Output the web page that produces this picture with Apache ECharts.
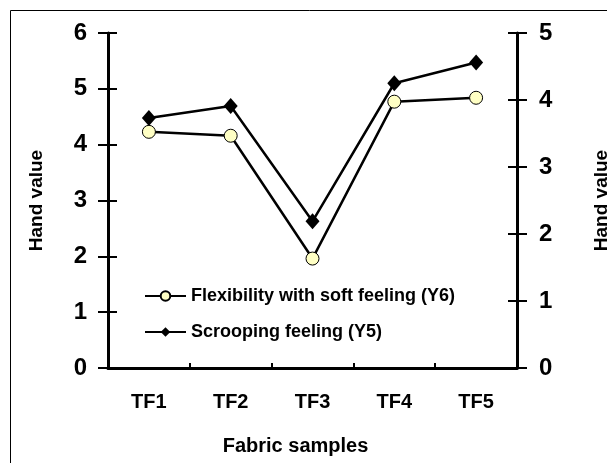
<!DOCTYPE html>
<html>
<head>
<meta charset="utf-8">
<script src="https://cdn.jsdelivr.net/npm/echarts@6/dist/echarts.min.js"></script>
<style>
  html, body { margin: 0; padding: 0; background: #fff; }
  #main { width: 607px; height: 463px; }
</style>
</head>
<body>
<div id="main"></div>
<script>
const samples = ['TF1', 'TF2', 'TF3', 'TF4', 'TF5'];
const flexibility = [4.23, 4.16, 1.96, 4.77, 4.84];   // Y6, left axis
const scrooping = [3.73, 3.91, 2.19, 4.25, 4.56];     // Y5, right axis

const font = 'Liberation Sans, Arial, sans-serif';
const black = '#000';

const chart = echarts.init(document.getElementById('main'));

const tickAxis = (pos, max) => ({
  type: 'value',
  position: pos,
  min: 0,
  max: max,
  interval: 1,
  axisLine: {show: false},
  axisLabel: {show: false},
  splitLine: {show: false},
  axisTick: {show: true, inside: true, length: 9, lineStyle: {color: black, width: 2}}
});

chart.setOption({
  animation: false,
  grid: {left: 108, right: 90, top: 33, bottom: 95, outerBoundsMode: 'none'},
  graphic: [{
    type: 'rect',
    shape: {x: 10.5, y: 10.5, width: 620, height: 470},
    style: {fill: 'none', stroke: black, lineWidth: 1}
  }],
  legend: {
    orient: 'vertical',
    left: 144,
    top: 287,
    padding: 0,
    itemWidth: 41,
    itemHeight: 12,
    itemGap: 18,
    textStyle: {fontFamily: font, fontWeight: 'bold', fontSize: 18, color: black},
    data: ['Flexibility with soft feeling (Y6)', 'Scrooping feeling (Y5)']
  },
  xAxis: [{
    type: 'category',
    data: samples,
    boundaryGap: true,
    name: 'Fabric samples',
    nameLocation: 'middle',
    nameGap: 68,
    nameTextStyle: {fontFamily: font, fontWeight: 'bold', fontSize: 20, color: black, padding: [0, 34, 0, 0]},
    axisLine: {lineStyle: {color: black, width: 3}},
    axisTick: {length: 8, lineStyle: {color: black, width: 2}},
    axisLabel: {margin: 24, fontFamily: font, fontWeight: 'bold', fontSize: 20, color: black}
  }, {
    type: 'category',
    data: samples,
    position: 'bottom',
    boundaryGap: true,
    axisLine: {show: false},
    axisLabel: {show: false},
    axisTick: {show: true, inside: true, length: 5, lineStyle: {color: black, width: 2}}
  }],
  yAxis: [{
    type: 'value',
    position: 'left',
    min: 0,
    max: 6,
    interval: 1,
    name: 'Hand value',
    nameLocation: 'middle',
    nameGap: 62,
    nameTextStyle: {fontFamily: font, fontWeight: 'bold', fontSize: 19, color: black},
    axisLine: {show: true, lineStyle: {color: black, width: 3}},
    axisTick: {show: true, length: 10, lineStyle: {color: black, width: 2}},
    axisLabel: {margin: 21, fontFamily: font, fontWeight: 'bold', fontSize: 24, color: black},
    splitLine: {show: false}
  }, {
    type: 'value',
    position: 'right',
    min: 0,
    max: 5,
    interval: 1,
    name: 'Hand value',
    nameLocation: 'middle',
    nameRotate: 90,
    nameGap: 75,
    nameTextStyle: {fontFamily: font, fontWeight: 'bold', fontSize: 19, color: black},
    axisLine: {show: true, lineStyle: {color: black, width: 3}},
    axisTick: {show: true, length: 10, lineStyle: {color: black, width: 2}},
    axisLabel: {margin: 22, fontFamily: font, fontWeight: 'bold', fontSize: 24, color: black},
    splitLine: {show: false}
  }, tickAxis('left', 6), tickAxis('right', 5)],
  series: [{
    name: 'Flexibility with soft feeling (Y6)',
    type: 'line',
    yAxisIndex: 0,
    data: flexibility,
    symbol: 'circle',
    symbolSize: 13,
    lineStyle: {color: black, width: 2.5},
    itemStyle: {color: '#ffffc4', borderColor: black, borderWidth: 1}
  }, {
    name: 'Scrooping feeling (Y5)',
    type: 'line',
    yAxisIndex: 1,
    data: scrooping,
    symbol: 'diamond',
    symbolSize: [14, 16],
    lineStyle: {color: black, width: 2.5},
    itemStyle: {color: black}
  }]
});
</script>
</body>
</html>
